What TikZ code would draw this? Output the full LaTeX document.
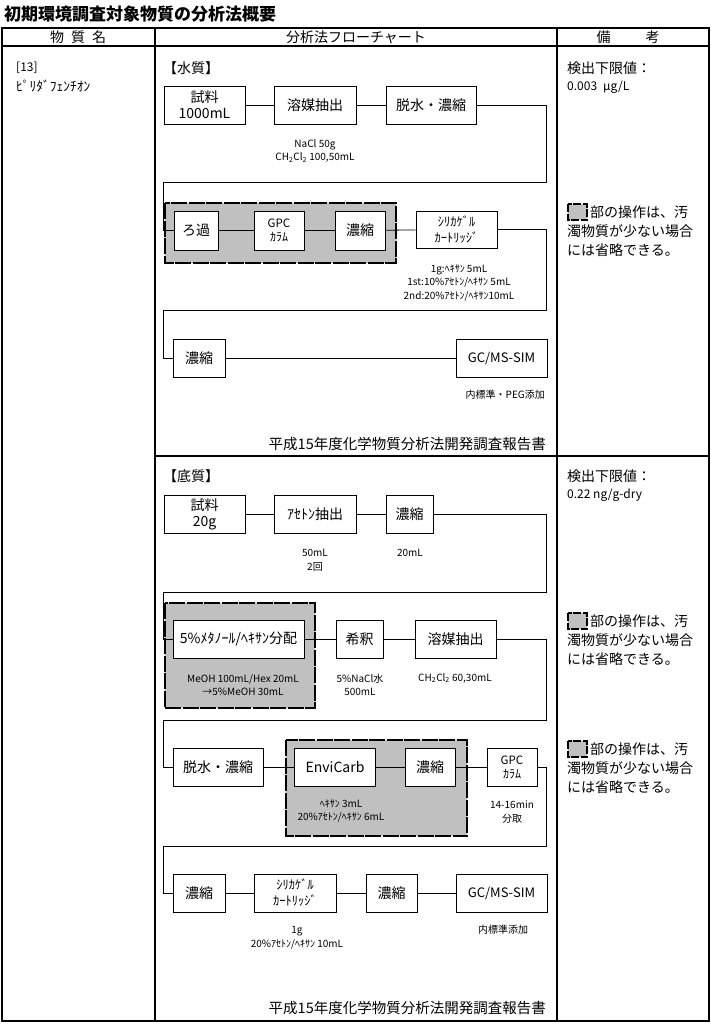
\documentclass[tikz,border=0pt]{standalone}
\usepackage{fontspec}
\setmainfont{Noto Sans CJK JP}
\definecolor{shadegray}{RGB}{192,192,192}
\tikzset{
  box/.style={draw, line width=0.8pt, fill=white, minimum height=38pt, inner sep=1pt, align=center, font=\fontsize{14}{16}\selectfont},
  sbox/.style={box, font=\fontsize{11.5}{14}\selectfont},
  kbox/.style={box, font=\fontsize{12.5}{16}\selectfont},
  note/.style={align=center, font=\fontsize{10}{13.5}\selectfont, inner sep=0pt},
  rnote/.style={anchor=west, inner sep=0pt, font=\fontsize{14}{16}\selectfont},
  omitzone/.style={fill=shadegray, draw=black, line width=2.6pt, dash pattern=on 16pt off 1.5pt},
  conn/.style={line width=0.8pt},
  frame/.style={line width=2.6pt},
}
\begin{document}
\begin{tikzpicture}[x=1pt,y=-1pt]
\useasboundingbox (0,0) rectangle (711,1025);
% title
\node[anchor=west, inner sep=0pt, font=\fontsize{17}{18}\selectfont\bfseries] (title) at (4,14) {初期環境調査対象物質の分析法概要};
% table frame
\draw[frame] (2,28) rectangle (709,1021);
\draw[frame] (2,46) -- (709,46);
\draw[frame] (155,28) -- (155,1021);
\draw[frame] (557,28) -- (557,1021);
\draw[frame] (155,456) -- (709,456);
% header
\node[font=\fontsize{14}{16}\selectfont] (h1) at (78,37) {物\hspace{7pt}質\hspace{7pt}名};
\node[font=\fontsize{14}{16}\selectfont] (h2) at (356,37) {分析法フローチャート};
\node[font=\fontsize{14}{16}\selectfont] (h3) at (628,37) {備\hspace{35pt}考};
% left column
\node[anchor=west, inner sep=0pt, font=\fontsize{12}{14}\selectfont] (num) at (16,68) {[13]};
\node[anchor=west, inner sep=0pt, font=\fontsize{13.5}{14}\selectfont] (name) at (16,86) {ﾋﾟﾘﾀﾞﾌｪﾝﾁｵﾝ};

% ===== water =====
\node[anchor=west, inner sep=0pt, font=\fontsize{14}{16}\selectfont] (wlab) at (163,68) {【水質】};
\draw[omitzone] (165,203) rectangle (396,263);
\node[box, minimum width=81pt] (w1) at (204.5,105) {試料\\1000mL};
\node[box, minimum width=82pt] (w2) at (315,105) {溶媒抽出};
\node[box, minimum width=90pt] (w3) at (431,105) {脱水・濃縮};
\node[box, minimum width=44pt, minimum height=39pt] (w4) at (196,230.5) {ろ過};
\node[sbox, minimum width=50pt, minimum height=39pt] (w5) at (279,230.5) {GPC\\{\fontsize{12}{13}\selectfont ｶﾗﾑ}};
\node[box, minimum width=50pt, minimum height=39pt] (w6) at (360,230.5) {濃縮};
\node[kbox, minimum width=81pt, minimum height=37pt] (w7) at (456.5,229.5) {ｼﾘｶｹﾞﾙ\\ｶｰﾄﾘｯｼﾞ};
\node[box, minimum width=52pt] (w8) at (199,358) {濃縮};
\node[box, minimum width=91pt, font=\fontsize{13}{16}\selectfont] (w9) at (501.5,358) {GC/MS-SIM};
\coordinate (wr1) at (546,182);
\coordinate (wl1) at (163,182);
\coordinate (wr2) at (546,310);
\coordinate (wl2) at (163,310);
\draw[conn] (w1) -- (w2);
\draw[conn] (w2) -- (w3);
\draw[conn] (w3.east) -| (wr1) -- (wl1) |- (w4.west);
\draw[conn] (w4) -- (w5);
\draw[conn] (w5) -- (w6);
\draw[conn] (w6) -- (w7);
\draw[conn] (w7.east) -| (wr2) -- (wl2) |- (w8.west);
\draw[conn] (w8) -- (w9);
\node[note] (wn1) at (315,151) {NaCl 50g\\CH\textsubscript{2}Cl\textsubscript{2} 100,50mL};
\node[note] (wn2) at (459,283) {1g:ﾍｷｻﾝ 5mL\\1st:10\%ｱｾﾄﾝ/ﾍｷｻﾝ 5mL\\2nd:20\%ｱｾﾄﾝ/ﾍｷｻﾝ10mL};
\node[note, anchor=east] (wn3) at (545,395) {内標準・PEG添加};
\node[anchor=east, inner sep=0pt, font=\fontsize{14.5}{16}\selectfont] (wsrc) at (546,444) {平成15年度化学物質分析法開発調査報告書};
% right column water
\node[rnote] (wd1) at (567,68) {検出下限値：};
\node[rnote, font=\fontsize{12}{14}\selectfont] (wd2) at (567,87) {0.003\hspace{6pt}μg/L};
\draw[omitzone, line width=2.4pt, dash pattern=on 8pt off 1.5pt] (568,204) rectangle (587,220);
\node[rnote] (wr1t) at (590,212) {部の操作は、汚};
\node[rnote] (wr2t) at (567,231) {濁物質が少ない場合};
\node[rnote] (wr3t) at (567,250) {には省略できる。};

% ===== sediment =====
\node[anchor=west, inner sep=0pt, font=\fontsize{14}{16}\selectfont] (slab) at (163,476) {【底質】};
\draw[omitzone] (165,603) rectangle (315,708);
\draw[omitzone] (286,740) rectangle (467,836);
\node[box, minimum width=81pt] (s1) at (204.5,514) {試料\\20g};
\node[box, minimum width=82pt] (s2) at (315,514) {ｱｾﾄﾝ抽出};
\node[box, minimum width=47pt] (s3) at (409.5,514) {濃縮};
\node[box, minimum width=131pt] (s4) at (238.5,639) {5\%ﾒﾀﾉｰﾙ/ﾍｷｻﾝ分配};
\node[box, minimum width=47pt] (s5) at (359.5,639) {希釈};
\node[box, minimum width=81pt] (s6) at (455.5,639) {溶媒抽出};
\node[box, minimum width=90pt] (s7) at (218,767) {脱水・濃縮};
\node[box, minimum width=81pt] (s8) at (335,767) {EnviCarb};
\node[box, minimum width=50pt] (s9) at (430,767) {濃縮};
\node[sbox, minimum width=50pt] (s10) at (512,767) {GPC\\{\fontsize{12}{13}\selectfont ｶﾗﾑ}};
\node[box, minimum width=52pt] (s11) at (199,893) {濃縮};
\node[kbox, minimum width=82pt] (s12) at (295,893) {ｼﾘｶｹﾞﾙ\\ｶｰﾄﾘｯｼﾞ};
\node[box, minimum width=51pt] (s13) at (391.5,893) {濃縮};
\node[box, minimum width=91pt, font=\fontsize{13}{16}\selectfont] (s14) at (501.5,893) {GC/MS-SIM};
\coordinate (sr1) at (546,592);
\coordinate (sl1) at (163,592);
\coordinate (sr2) at (546,720);
\coordinate (sl2) at (163,720);
\coordinate (sr3) at (546,846);
\coordinate (sl3) at (163,846);
\draw[conn] (s1) -- (s2);
\draw[conn] (s2) -- (s3);
\draw[conn] (s3.east) -| (sr1) -- (sl1) |- (s4.west);
\draw[conn] (s4) -- (s5);
\draw[conn] (s5) -- (s6);
\draw[conn] (s6.east) -| (sr2) -- (sl2) |- (s7.west);
\draw[conn] (s7) -- (s8);
\draw[conn] (s8) -- (s9);
\draw[conn] (s9) -- (s10);
\draw[conn] (s10.east) -| (sr3) -- (sl3) |- (s11.west);
\draw[conn] (s11) -- (s12);
\draw[conn] (s12) -- (s13);
\draw[conn] (s13) -- (s14);
\node[note] (sn1) at (315,560) {50mL\\2回};
\node[note] (sn2) at (410,553) {20mL};
\node[note] (sn3) at (243,685) {MeOH 100mL/Hex 20mL\\→5\%MeOH 30mL};
\node[note] (sn4) at (360,685) {5\%NaCl水\\500mL};
\node[note] (sn5) at (455,678) {CH\textsubscript{2}Cl\textsubscript{2} 60,30mL};
\node[note] (sn6) at (341,811) {ﾍｷｻﾝ 3mL\\20\%ｱｾﾄﾝ/ﾍｷｻﾝ 6mL};
\node[note] (sn7) at (512,812) {14-16min\\分取};
\node[note] (sn8) at (297,938) {1g\\20\%ｱｾﾄﾝ/ﾍｷｻﾝ 10mL};
\node[note] (sn9) at (503,930) {内標準添加};
\node[anchor=east, inner sep=0pt, font=\fontsize{14.5}{16}\selectfont] (ssrc) at (546,1008) {平成15年度化学物質分析法開発調査報告書};
% right column sediment
\node[rnote] (sd1) at (567,476) {検出下限値：};
\node[rnote, font=\fontsize{12}{14}\selectfont] (sd2) at (567,495) {0.22 ng/g-dry};
\draw[omitzone, line width=2.4pt, dash pattern=on 8pt off 1.5pt] (568,613) rectangle (587,629);
\node[rnote] (sa1) at (590,621) {部の操作は、汚};
\node[rnote] (sa2) at (567,640) {濁物質が少ない場合};
\node[rnote] (sa3) at (567,659) {には省略できる。};
\draw[omitzone, line width=2.4pt, dash pattern=on 8pt off 1.5pt] (568,741) rectangle (587,757);
\node[rnote] (sb1) at (590,749) {部の操作は、汚};
\node[rnote] (sb2) at (567,768) {濁物質が少ない場合};
\node[rnote] (sb3) at (567,787) {には省略できる。};
\end{tikzpicture}
\end{document}
